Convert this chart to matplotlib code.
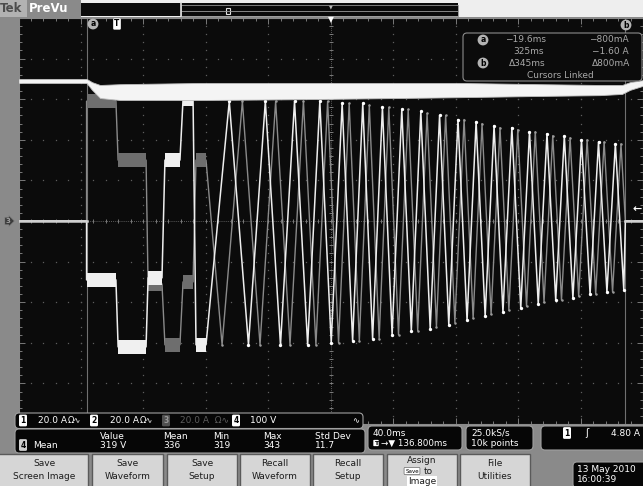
import numpy as np
import matplotlib.pyplot as plt
from matplotlib.patches import Rectangle, FancyBboxPatch

W, H = 643, 486

# ---- scope settings ----
t_left, t_right = -63.2, 336.8      # 40 ms/div, centre 136.8 ms after trigger
t_centre = 136.8
cursor_a, cursor_b = -19.6, 325.0
amps_per_div = 20.0
volts_per_div = 100.0

# start-up commutation steps (ms) and phase currents (A)
step_t0 = [-19.6, 0.6, 19.8, 30.6, 42.2, 50.5]
step_t1 = [-0.8, 18.5, 28.7, 40.2, 48.6, 56.9]
step_ch1 = [-29, -62, -28, 30, 60, -61]
step_ch2 = [59, 30, -31, -61, -30, 30]

# ch1 (white) peaks / troughs after the steps
ch1_t = [71.8, 84.1, 94.9, 104.6, 113.6, 122.0, 129.8, 137.1, 144.1, 150.8,
         157.3, 163.6, 169.9, 176.1, 182.3, 188.4, 194.5, 200.5, 206.5, 212.4,
         218.3, 224.1, 229.9, 235.7, 241.4, 247.1, 252.8, 258.5, 264.1, 269.7,
         275.3, 280.9, 286.4, 291.9, 297.4, 302.9, 308.3, 313.7, 319.1, 324.5]
ch1_a = [59, -61, 59, -61, 59, -61, 59, -60, 58, -59,
         58, -58, 56, -56, 55, -54, 54, -53, 52, -51,
         50, -49, 49, -47, 47, -45, 46, -43, 44, -41,
         43, -39, 42, -38, 40, -36, 39, -35, 38, -34]

# ch2 (grey) peaks / troughs
ch2_t = [67.2, 80.2, 91.5, 101.5, 110.7, 119.3, 127.3, 134.8, 141.8, 148.6,
         155.1, 161.5, 167.8, 174.0, 180.2, 186.4, 192.5, 198.5, 204.5, 210.4,
         216.3, 222.2, 228.0, 233.7, 239.5, 245.2, 250.9, 256.6, 262.2, 267.8,
         273.4, 279.0, 284.6, 290.1, 295.6, 301.0, 306.5, 311.9, 317.3, 322.7]
ch2_a = [-61, 59, -61, 59, -61, 59, -61, 59, -60, 58,
         -59, 57, -58, 56, -56, 55, -54, 53, -52, 52,
         -50, 50, -48, 48, -46, 46, -44, 45, -42, 44,
         -40, 42, -39, 41, -37, 40, -36, 39, -35, 38]
stop_t = 325.5

# ch4 bus voltage band (V): upper / lower edge of the noisy trace
ch4_t = [-63.2, -19.6, -16.1, -11.0, 1.8, 53.1, 117.1, 181.2, 219.6, 270.8,
         309.3, 323.4, 328.5, 336.8]
ch4_hi = [350, 350, 342, 335, 337, 340, 340, 340, 340, 337, 335, 335, 342, 347]
ch4_lo = [340, 340, 323, 303, 298, 298, 300, 303, 305, 308, 310, 313, 323, 333]

fig = plt.figure(figsize=(W / 100, H / 100), dpi=100, facecolor="#8a8a8a")

bg = fig.add_axes([0, 0, 1, 1], zorder=0)
bg.set_xlim(0, W)
bg.set_ylim(H, 0)
bg.axis("off")

ax = fig.add_axes([18.5 / W, 1 - 424 / H, (W - 18.5) / W, (424 - 18) / H], zorder=1)
ax.set_facecolor("#0b0b0b")
ax.set_xlim(t_left, t_right)
ax.set_ylim(-5, 5)

ui = fig.add_axes([0, 0, 1, 1], zorder=2)
ui.set_xlim(0, W)
ui.set_ylim(H, 0)
ui.axis("off")

# ---- graticule ----
major_x = np.arange(t_left, t_right + 0.1, 40)
minor_x = np.arange(t_left, t_right + 0.1, 8)
major_y = np.arange(-5, 5.01, 1)
minor_y = np.arange(-5, 5.01, 0.2)
ax.set_xticks(major_x)
ax.set_xticks(minor_x, minor=True)
ax.set_yticks(major_y)
ax.set_yticks(minor_y, minor=True)
ax.tick_params(which="both", direction="in", top=True, right=True,
               labelbottom=False, labelleft=False, color="#8a8a8a", width=0.6)
ax.tick_params(which="major", length=4)
ax.tick_params(which="minor", length=2)
for sp in ax.spines.values():
    sp.set_color("#8a8a8a")
    sp.set_linewidth(0.8)

dot = dict(ls="none", marker="s", ms=0.9, mew=0, color="#5e5e5e")
for k in major_y[1:-1]:
    if k != 0:
        ax.plot(minor_x, np.full(minor_x.size, k), **dot)
for xv in major_x[1:-1]:
    if abs(xv - t_centre) > 1:
        ax.plot(np.full(minor_y.size, xv), minor_y, **dot)
ax.axhline(0, color="#777777", lw=0.6, ls=(0, (1, 1.5)))
ax.axvline(t_centre, color="#777777", lw=0.6, ls=(0, (1, 1.5)))
ax.plot(minor_x, np.zeros(minor_x.size), ls="none", marker="|", ms=3.5,
        mew=0.6, color="#8a8a8a")
ax.plot(np.full(minor_y.size, t_centre), minor_y, ls="none", marker="_",
        ms=3.5, mew=0.6, color="#8a8a8a")

ax.axvline(cursor_a, color="#707070", lw=0.8)
ax.axvline(cursor_b, color="#707070", lw=0.8)


def trace(levels, ev_t, ev_a):
    t = [t_left, step_t0[0]]
    a = [0, 0]
    for t0, t1, lv in zip(step_t0, step_t1, levels):
        t += [t0, t1]
        a += [lv, lv]
    t += ev_t + [stop_t, t_right]
    a += ev_a + [0, 0]
    return np.array(t), np.array(a) / amps_per_div


# ch2 grey
t2, y2 = trace(step_ch2, ch2_t, ch2_a)
ax.plot(t2, y2, color="#8a8a8a", lw=1.0, zorder=3)
for t0, t1, lv in zip(step_t0, step_t1, step_ch2):
    ax.fill_between([t0, t1], lv / amps_per_div - 0.17, lv / amps_per_div + 0.17,
                    color="#6e6e6e", lw=0, zorder=3)
ax.plot(ch2_t, np.array(ch2_a) / amps_per_div, ls="none", marker="o", ms=1.8,
        mew=0, color="#9a9a9a", zorder=3)

# ch1 white
t1_, y1 = trace(step_ch1, ch1_t, ch1_a)
ax.plot(t1_, y1, color="#eeeeee", lw=1.1, zorder=4)
for t0, t1, lv in zip(step_t0, step_t1, step_ch1):
    ax.fill_between([t0, t1], lv / amps_per_div - 0.17, lv / amps_per_div + 0.17,
                    color="#f0f0f0", lw=0, zorder=4)
ax.plot(ch1_t, np.array(ch1_a) / amps_per_div, ls="none", marker="o", ms=2.4,
        mew=0, color="white", zorder=4)
ax.plot([t_left, step_t0[0]], [0, 0], color="#d0d0d0", lw=1.8, zorder=4)
ax.plot([stop_t, t_right], [0, 0], color="#d0d0d0", lw=1.8, zorder=4)

# ch4 bus voltage
ax.fill_between(ch4_t, np.array(ch4_lo) / volts_per_div,
                np.array(ch4_hi) / volts_per_div, color="#f4f4f4", lw=0.6,
                edgecolor="#bdbdbd", zorder=5)

# ---- helpers for screen furniture ----
FONT = "DejaVu Sans"


def rbox(x0, y0, x1, y1, fc="#060606", ec="#a0a0a0", r=4, lw=0.8, ax_=ui):
    ax_.add_patch(FancyBboxPatch((x0, y0), x1 - x0, y1 - y0,
                                 boxstyle=f"round,pad=0,rounding_size={r}",
                                 fc=fc, ec=ec, lw=lw))


def txt(x, y, s, size=6.5, color="white", ha="left", weight="normal", **kw):
    ui.text(x, y, s, fontsize=size, color=color, ha=ha, va="center",
            fontweight=weight, family=FONT, **kw)


def badge(x, y, s, fc="white", tc="black", size=5.5, style="round,pad=0.18"):
    ui.text(x, y, s, fontsize=size, color=tc, ha="center", va="center",
            fontweight="bold", family=FONT,
            bbox=dict(boxstyle=style, fc=fc, ec="none"))


# top bar
bg.add_patch(Rectangle((0, 0), W, 17, fc="#eeeeee", lw=0))
bg.add_patch(Rectangle((0, 0), 27, 17, fc="#b2b2b2", lw=0))
bg.add_patch(Rectangle((27, 0), 54, 17, fc="#8a8a8a", lw=0))
bg.add_patch(Rectangle((81, 3), 377, 13.5, fc="#0a0a0a", lw=0))
bg.add_patch(Rectangle((181, 5), 277, 11, fc="none", ec="#8f8f8f", lw=0.6))
bg.plot([181, 458], [11, 11], color="#9a9a9a", lw=0.6)
bg.plot([181, 181], [3, 16.5], color="#e0e0e0", lw=1.2)
bg.add_patch(Rectangle((226, 8), 4, 6.5, fc="none", ec="#e0e0e0", lw=0.8))
txt(0, 8.5, "Tek", size=8.5, color="#4d4d4d", weight="bold")
txt(29, 8.5, "PreVu", size=8.5, color="white", weight="bold")
ui.text(331, 7, "\u25bc", fontsize=3.5, color="#bbbbbb", ha="center", va="center")
ui.text(331, 20, "\u25bc", fontsize=5.5, color="white", ha="center", va="center")

# markers on graticule
badge(93, 24, "a", fc="#b4b4b4", style="circle,pad=0.12")
badge(117, 24, "T", fc="white", style="round,pad=0.15")
badge(626, 25, "b", fc="#b4b4b4", style="circle,pad=0.12")
ui.text(637, 209, "\u2190", fontsize=8, color="white", ha="center", va="center",
        fontweight="bold")
ui.text(8, 221, "3", fontsize=5, color="#a0a0a0", ha="center", va="center",
        fontweight="bold", bbox=dict(boxstyle="rarrow,pad=0.12", fc="#3c3c3c",
                                     ec="#8a8a8a", lw=0.5))

# cursor readout
rbox(463, 33, 642, 81, fc="#0b0b0b", ec="#8c8c8c", r=4)
cg = "#a8a8a8"
badge(483, 40, "a", fc="#b4b4b4", style="circle,pad=0.12")
badge(483, 63, "b", fc="#b4b4b4", style="circle,pad=0.12")
txt(546, 40, "\u221219.6ms", color=cg, ha="right")
txt(629, 40, "\u2212800mA", color=cg, ha="right")
txt(544, 52, "325ms", color=cg, ha="right")
txt(629, 52, "\u22121.60 A", color=cg, ha="right")
txt(546, 63, "\u0394345ms", color=cg, ha="right")
txt(630, 63, "\u0394800mA", color=cg, ha="right")
txt(560, 75, "Cursors Linked", color=cg, ha="center")

# ---- bottom panel ----
bg.add_patch(Rectangle((0, 412), W, H - 412, fc="#8a8a8a", lw=0))
rbox(15, 413, 363, 428.5)
badge(23, 420.5, "1")
txt(38, 420.5, "20.0 A")
txt(68, 420.5, "\u03a9\u223f", size=6)
badge(94, 420.5, "2")
txt(110, 420.5, "20.0 A")
txt(140, 420.5, "\u03a9\u223f", size=6)
badge(166, 420.5, "3", fc="#505050", tc="#9a9a9a")
txt(180, 420.5, "20.0 A  \u03a9\u223f", color="#5c5c5c")
badge(236, 420.5, "4")
txt(250, 420.5, "100 V")
txt(352, 420.5, "\u223f", size=6)

rbox(15, 429, 365, 453)
badge(23, 445, "4", fc="#cfcfcf")
txt(33, 445, "Mean")
meas_head = ["Value", "Mean", "Min", "Max", "Std Dev"]
meas_val = ["319 V", "336", "319", "343", "11.7"]
meas_x = [100, 163, 213, 263, 315]
for hx, hd, vl in zip(meas_x, meas_head, meas_val):
    txt(hx, 436, hd)
    txt(hx, 445.5, vl)

rbox(368, 426, 462, 450)
txt(373, 433, "40.0ms")
badge(376, 443, "T", size=4.5, style="round,pad=0.1")
txt(381, 443, "\u2192\u25bc 136.800ms", size=6.3)

rbox(466, 426, 533, 450)
txt(471, 433, "25.0kS/s")
txt(471, 443, "10k points")

rbox(541, 426, 648, 450)
badge(567, 433, "1")
txt(585, 433, "\u0283", size=7)
txt(640, 433, "4.80 A", ha="right")

rbox(573, 462, 648, 488)
txt(577, 469.5, "13 May 2010")
txt(577, 479, "16:00:39")

btn_x0 = [-2, 92, 167, 240, 313, 387, 460]
btn_x1 = [88, 163, 237, 310, 383, 457, 530]
btn_top = ["Save", "Save", "Save", "Recall", "Recall", "", "File"]
btn_bot = ["Screen Image", "Waveform", "Setup", "Waveform", "Setup", "", "Utilities"]
for x0, x1, s1, s2 in zip(btn_x0, btn_x1, btn_top, btn_bot):
    ui.add_patch(Rectangle((x0, 454), x1 - x0, 34, fc="#d6d6d6", ec="#5a5a5a", lw=1))
    cx = (x0 + x1) / 2 + (1 if x0 < 0 else 0)
    txt(cx, 463, s1, color="#1c1c1c", ha="center")
    txt(cx, 476, s2, color="#1c1c1c", ha="center")
txt(422, 460, "Assign", color="#1c1c1c", ha="center")
ui.text(412, 471, "Save", fontsize=4, color="black", ha="center", va="center",
        family=FONT, bbox=dict(boxstyle="round,pad=0.2", fc="white", ec="#666666", lw=0.5))
txt(424, 471, "to", color="#1c1c1c")
ui.text(422, 481.5, "Image", fontsize=6.5, color="#1c1c1c", ha="center", va="center",
        family=FONT, bbox=dict(boxstyle="square,pad=0.1", fc="white", ec="none"))

fig.savefig("out.png", dpi=100, facecolor=fig.get_facecolor())
